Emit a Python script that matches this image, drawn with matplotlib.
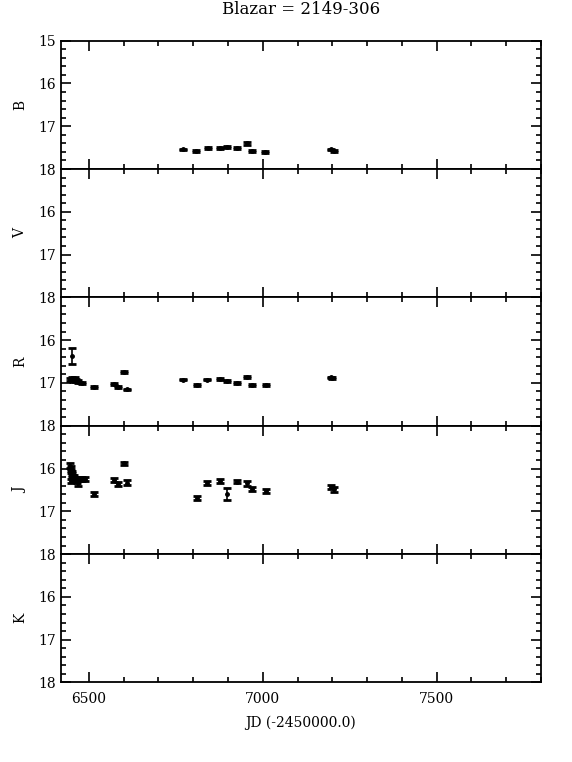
import numpy as np
import matplotlib
matplotlib.use("Agg")
import matplotlib.pyplot as plt
from matplotlib.ticker import MultipleLocator, FixedFormatter, FixedLocator

# B band
b_jd = [6772, 6809, 6842, 6876, 6897, 6926, 6956, 6968, 7007, 7196, 7204]
b_mag = [17.54, 17.58, 17.50, 17.51, 17.48, 17.50, 17.40, 17.58, 17.60, 17.54, 17.57]
b_err = [0.02, 0.02, 0.02, 0.02, 0.02, 0.02, 0.03, 0.02, 0.02, 0.02, 0.02]

# R band
r_jd = [6453, 6447, 6451, 6455, 6459, 6463, 6470, 6479, 6516, 6571, 6583, 6600, 6609,
        6772, 6811, 6841, 6878, 6897, 6927, 6956, 6970, 7009, 7195, 7200]
r_mag = [16.37, 16.92, 16.88, 16.95, 16.90, 16.93, 16.97, 17.0, 17.1, 17.03, 17.09, 16.75, 17.15,
         16.92, 17.04, 16.92, 16.91, 16.95, 17.0, 16.86, 17.04, 17.04, 16.87, 16.88]
r_err = [0.19, 0.03, 0.03, 0.03, 0.03, 0.03, 0.03, 0.03, 0.02, 0.02, 0.02, 0.02, 0.02,
         0.02, 0.02, 0.02, 0.02, 0.02, 0.02, 0.02, 0.02, 0.02, 0.02, 0.02]

# J band
j_jd = [6447, 6449, 6450, 6452, 6453, 6455, 6450, 6458, 6460, 6465, 6470, 6475, 6480, 6490,
        6516, 6571, 6585, 6600, 6609,
        6811, 6841, 6878, 6897, 6927, 6956, 6970, 7009, 7196, 7204]
j_mag = [15.93, 16.0, 16.05, 16.1, 16.15, 16.2, 16.3, 16.2, 16.25, 16.3, 16.35, 16.25, 16.25, 16.24,
         16.59, 16.27, 16.37, 15.88, 16.33,
         16.69, 16.34, 16.29, 16.59, 16.31, 16.35, 16.48, 16.53, 16.43, 16.49]
j_err = [0.05] * 14 + [0.05, 0.05, 0.05, 0.04, 0.05,
                       0.05, 0.05, 0.04, 0.14, 0.04, 0.05, 0.05, 0.05, 0.05, 0.05]

bands = ["B", "V", "R", "J", "K"]
data = {"B": (b_jd, b_mag, b_err), "R": (r_jd, r_mag, r_err), "J": (j_jd, j_mag, j_err)}

plt.rcParams["font.family"] = ["DejaVu Serif"]
plt.rcParams["font.size"] = 10

fig = plt.figure(figsize=(5.72, 7.62), dpi=100)
left, right = 61 / 572, 541 / 572
top, bottom = 1 - 40.7 / 762, 1 - 682.4 / 762
h = (top - bottom) / 5

for i, band in enumerate(bands):
    ax = fig.add_axes([left, top - (i + 1) * h, right - left, h])
    if band in data:
        x, y, e = data[band]
        ax.errorbar(x, y, yerr=e, fmt="o", color="black", ms=2.5,
                    elinewidth=1.2, capsize=3, capthick=2)
    ax.set_xlim(6420, 7800)
    ax.set_ylim(18, 15)
    ax.yaxis.set_major_locator(FixedLocator([15, 16, 17, 18]))
    if i == 0:
        ax.yaxis.set_major_formatter(FixedFormatter(["15", "16", "17", "18"]))
    else:
        ax.yaxis.set_major_formatter(FixedFormatter(["", "16", "17", "18"]))
    ax.yaxis.set_minor_locator(MultipleLocator(0.2))
    ax.xaxis.set_major_locator(MultipleLocator(500))
    ax.xaxis.set_minor_locator(MultipleLocator(100))
    ax.tick_params(which="both", direction="in", top=True, right=True, width=1.2)
    ax.tick_params(which="major", length=7)
    ax.tick_params(which="minor", length=3.5)
    ax.tick_params(axis="x", pad=7)
    for s in ax.spines.values():
        s.set_linewidth(1.3)
    ax.set_ylabel(band, labelpad=8)
    if i < 4:
        ax.tick_params(labelbottom=False)
    else:
        ax.set_xlabel("JD (-2450000.0)", labelpad=7)
    if i == 0:
        ax.set_title("Blazar = 2149-306", pad=19)

fig.savefig("out.png", dpi=100)
